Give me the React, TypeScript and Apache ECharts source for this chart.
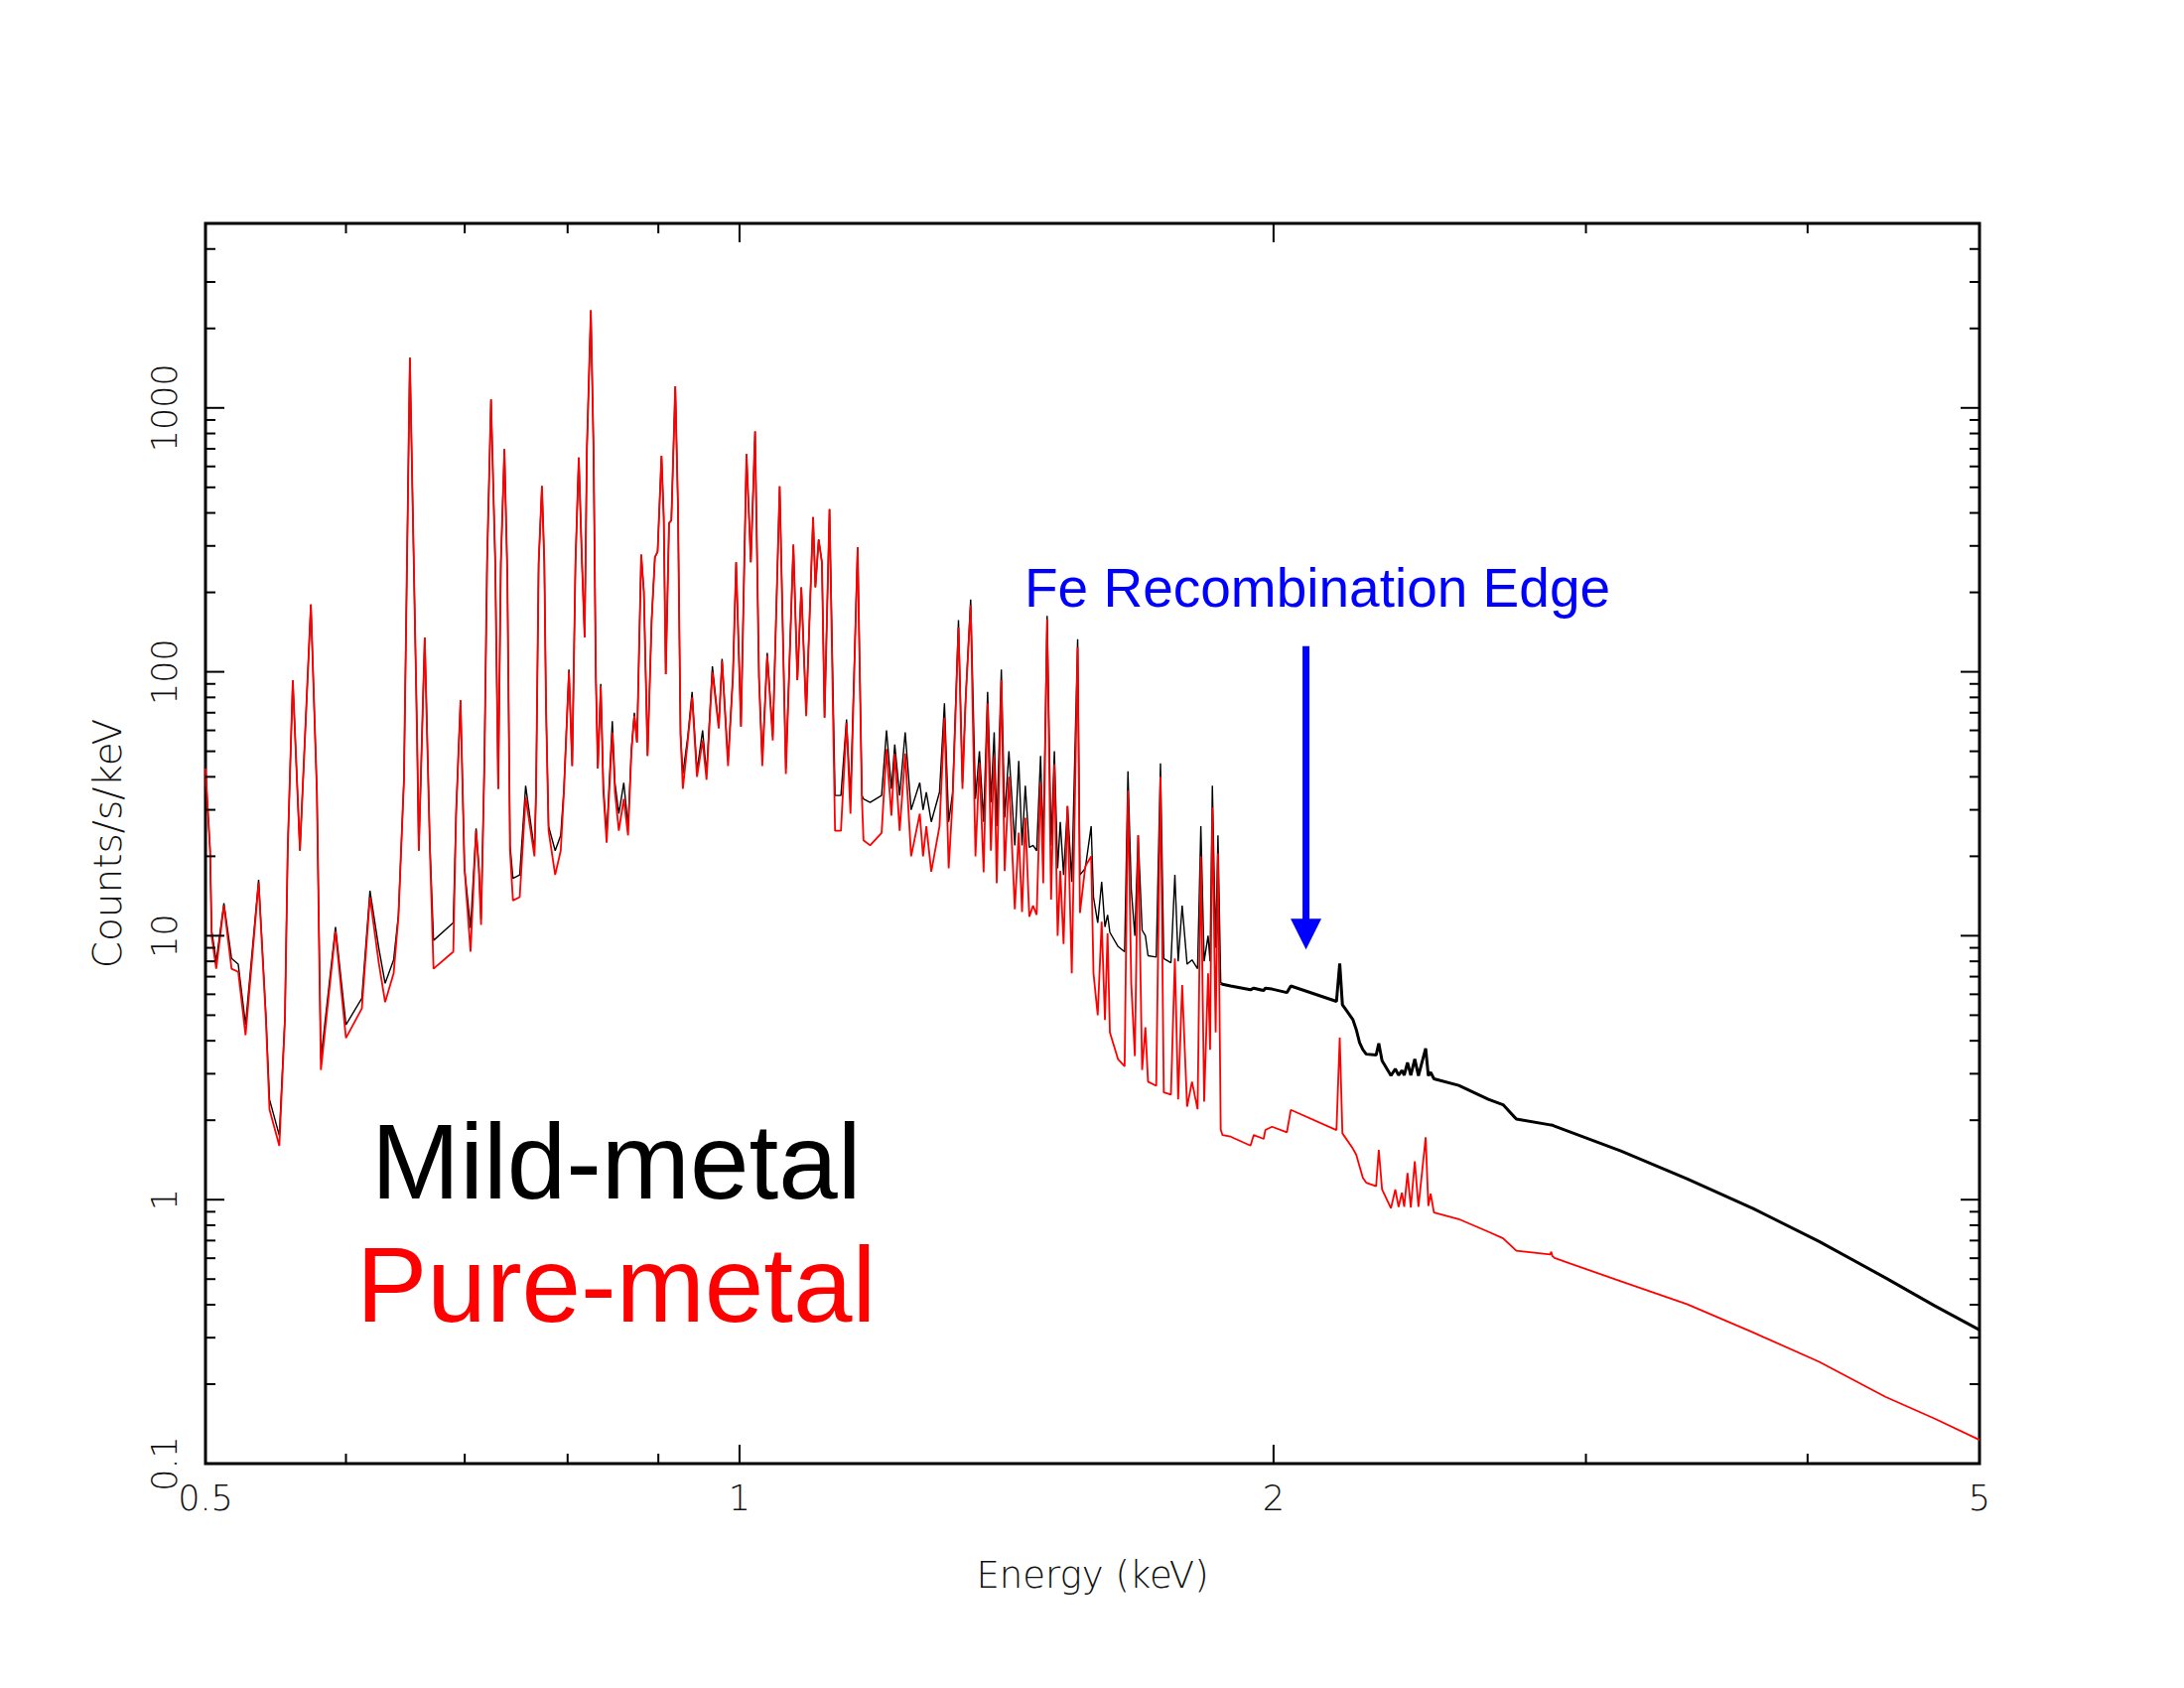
import React, { useEffect, useRef } from "react";
import * as echarts from "echarts";

// Energy grid (keV) shared by both model spectra
const energy = [
  0.5, 0.503, 0.504, 0.507, 0.5121, 0.5172, 0.5217, 0.5267, 0.5357, 0.5408,
  0.5433, 0.5503, 0.5543, 0.5563, 0.56, 0.5652, 0.5733, 0.5778, 0.5808, 0.5919,
  0.6, 0.6125, 0.619, 0.6261, 0.6313, 0.6383, 0.6423, 0.6469, 0.6519, 0.658,
  0.6595, 0.6646, 0.6691, 0.6722, 0.6897, 0.6922, 0.6962, 0.6998, 0.7053, 0.7104,
  0.7129, 0.715, 0.7181, 0.7206, 0.7243, 0.7283, 0.7311, 0.7336, 0.737, 0.7398,
  0.7424, 0.7452, 0.7518, 0.7576, 0.7663, 0.7679, 0.7705, 0.7738, 0.7762, 0.7779,
  0.7805, 0.7872, 0.7929, 0.7962, 0.8014, 0.8048, 0.8082, 0.8117, 0.8151, 0.8179,
  0.8203, 0.8245, 0.8274, 0.8299, 0.832, 0.8352, 0.838, 0.8416, 0.8478, 0.8507,
  0.855, 0.8605, 0.8653, 0.8691, 0.8724, 0.8754, 0.8802, 0.8832, 0.8875, 0.8922,
  0.896, 0.8991, 0.9037, 0.9063, 0.9087, 0.9126, 0.9153, 0.92, 0.9232, 0.9263,
  0.9291, 0.9351, 0.9403, 0.9463, 0.9532, 0.9581, 0.9654, 0.9734, 0.9776, 0.9852,
  0.9914, 0.9956, 1.0019, 1.0091, 1.0148, 1.0204, 1.0256, 1.03, 1.0366, 1.0441,
  1.0535, 1.062, 1.0724, 1.078, 1.0835, 1.0904, 1.1002, 1.1035, 1.1082, 1.1129,
  1.1167, 1.1239, 1.132, 1.1407, 1.149, 1.1549, 1.1657, 1.1722, 1.1746, 1.1847,
  1.2025, 1.2102, 1.2179, 1.2232, 1.231, 1.2399, 1.2495, 1.2636, 1.269, 1.2744,
  1.2826, 1.2964, 1.3047, 1.3119, 1.3187, 1.3287, 1.3356, 1.3412, 1.3499, 1.3583,
  1.3653, 1.3728, 1.3799, 1.3858, 1.3917, 1.3964, 1.4047, 1.4108, 1.4186, 1.4295,
  1.4368, 1.443, 1.4491, 1.4566, 1.4637, 1.4706, 1.4781, 1.4832, 1.4907, 1.4984,
  1.5048, 1.5112, 1.5164, 1.5229, 1.5307, 1.5392, 1.551, 1.5556, 1.5664, 1.5784,
  1.5832, 1.5919, 1.6001, 1.6069, 1.6124, 1.6172, 1.6346, 1.6485, 1.6556, 1.6627,
  1.6705, 1.6777, 1.6863, 1.6935, 1.6993, 1.7175, 1.727, 1.7344, 1.7506, 1.7596,
  1.7671, 1.7763, 1.7877, 1.7991, 1.8122, 1.8199, 1.8277, 1.8371, 1.8418, 1.8473,
  1.8552, 1.8608, 1.8675, 1.8716, 1.8917, 1.941, 1.9493, 1.9745, 1.9788, 1.996,
  2.0349, 2.0454, 2.1702, 2.1794, 2.187, 2.217, 2.2267, 2.2363, 2.2459, 2.2556,
  2.2848, 2.2927, 2.3025, 2.3293, 2.3424, 2.3524, 2.3625, 2.3696, 2.3798, 2.39,
  2.4024, 2.4138, 2.4366, 2.445, 2.4524, 2.4629, 2.5435, 2.643, 2.694, 2.741,
  2.864, 2.868, 2.872, 2.88, 3.139, 3.42, 3.727, 4.061, 4.425, 4.718,
  5.0,
];

// Pure-metal model (red), counts/s/keV
const pureMetal = [
  43, 21, 10, 7.5, 13, 7.5, 7.3, 4.2, 15.9, 4.8,
  2.2, 1.6, 4.8, 21, 93, 21, 180, 35, 3.1, 10.4,
  4.1, 5.3, 14, 7.9, 5.6, 7.2, 11.8, 39, 1550, 58,
  21, 135, 21, 7.5, 8.7, 29, 78, 18, 8.7, 25,
  18, 11, 45, 258, 1077, 258, 36, 258, 698, 234,
  21, 13.6, 14, 33.5, 20, 35, 258, 506, 258, 74,
  25, 17, 21, 35, 100, 44, 258, 649, 258, 135,
  698, 2345, 698, 95, 43, 88, 35, 22.5, 59, 35,
  25, 33, 24, 50, 68, 54, 278, 201, 48, 157,
  272, 285, 658, 385, 98, 366, 375, 1208, 425, 58,
  36, 55, 80, 40, 55, 39, 100, 61, 110, 44,
  95, 260, 62, 668, 260, 815, 95, 44, 115, 55,
  504, 41, 303, 93, 209, 68, 386, 209, 317, 260,
  67, 413, 25, 25, 64, 29, 297, 33, 23, 22,
  24.5, 51, 28.5, 49, 25, 49, 20, 29, 20, 26,
  17.5, 26, 67, 18, 33, 147, 36, 79, 179, 20,
  45, 17.4, 76, 21, 48, 15.8, 93, 17.6, 40, 12.6,
  24.6, 12.3, 28, 11.8, 13, 12, 38, 15.8, 158, 13.7,
  44.7, 10, 17.6, 9.3, 31, 7.2, 124, 12.2, 18.3, 20,
  7.2, 5.0, 11.3, 4.8, 10.2, 4.3, 3.4, 3.2, 35.5, 6.6,
  3.5, 24, 3.1, 4.5, 2.8, 2.7, 40, 2.55, 2.5, 8.2,
  2.4, 6.5, 2.25, 2.8, 2.2, 20, 2.35, 7.2, 3.7, 30.6,
  4.3, 20.5, 1.84, 1.758, 1.733, 1.603, 1.758, 1.699, 1.836, 1.889,
  1.8, 2.19, 1.836, 4.11, 1.784, 1.56, 1.479, 1.337, 1.209, 1.16,
  1.125, 1.545, 1.093, 0.928, 1.093, 0.939, 1.062, 0.939, 1.262, 0.933,
  1.396, 0.939, 1.723, 0.947, 1.053, 0.894, 0.844, 0.756, 0.714, 0.64,
  0.62, 0.635, 0.612, 0.601, 0.491, 0.402, 0.314, 0.243, 0.179, 0.148,
  0.123,
];

// Mild-metal model (black), counts/s/keV
const mildMetal = [
  43, 21, 10.5, 8, 13.3, 8.2, 7.8, 4.6, 16.3, 5.0,
  2.4, 1.75, 4.9, 21, 93, 21, 180, 35, 3.4, 10.8,
  4.6, 5.8, 14.8, 9, 6.6, 8.1, 12, 39, 1550, 58,
  21, 135, 22, 9.6, 11.2, 29, 78, 18, 10.7, 25.5,
  18.5, 11.5, 45, 258, 1077, 258, 36, 258, 698, 234,
  22, 16.5, 17, 37, 21, 35, 258, 506, 258, 74,
  26, 21, 24, 36, 102, 44, 258, 649, 258, 135,
  698, 2345, 698, 95, 43, 90, 37, 24, 65, 38,
  29, 38, 26, 51, 70, 54, 278, 201, 48, 157,
  272, 285, 658, 385, 98, 366, 375, 1208, 425, 58,
  41, 57, 84, 42, 60, 41, 105, 62, 112, 46,
  95, 260, 62, 668, 260, 815, 95, 46, 118, 57,
  504, 43, 303, 93, 209, 70, 386, 209, 317, 260,
  67, 413, 34, 34, 66, 33, 297, 34, 33, 32,
  34, 60, 36, 53, 34, 59, 30, 38, 30, 35,
  27, 35, 76, 27, 35, 157, 38, 80, 188, 33,
  50, 27, 84, 32, 59, 26, 102, 28, 50, 22,
  46, 22, 37, 21.6, 22, 21, 48, 22, 163, 22,
  50, 18, 27, 17, 31, 16, 133, 17, 18, 26,
  14, 11.2, 16, 10.8, 12, 10.3, 9.1, 8.7, 42, 15,
  10, 24, 10.5, 10, 8.4, 8.3, 45, 8.2, 7.9, 17,
  8, 13, 7.8, 8.1, 7.5, 26, 8, 10, 8, 37,
  9, 24, 6.6, 6.55, 6.45, 6.24, 6.33, 6.2, 6.33, 6.28,
  6.09, 6.45, 5.64, 7.85, 5.48, 4.81, 4.41, 3.93, 3.7, 3.56,
  3.53, 3.91, 3.36, 2.95, 3.13, 2.96, 3.09, 2.96, 3.31, 2.96,
  3.41, 2.95, 3.74, 2.95, 3.04, 2.87, 2.71, 2.4, 2.29, 2.02,
  1.92, 1.92, 1.915, 1.9, 1.53, 1.2, 0.925, 0.694, 0.506, 0.396,
  0.321,
];

// Axis ticks and labels
const xTickMajor = [0.5, 1, 2, 5];
const xTickLabels = ["0.5", "1", "2", "5"];
const xTickMinor = [0.6, 0.7, 0.8, 0.9, 3, 4];
const yTickMajor = [0.1, 1, 10, 100, 1000];
const yTickLabels = ["0.1", "1", "10", "100", "1000"];
const yTickMinor = [
  0.2, 0.3, 0.4, 0.5, 0.6, 0.7, 0.8, 0.9,
  2, 3, 4, 5, 6, 7, 8, 9,
  20, 30, 40, 50, 60, 70, 80, 90,
  200, 300, 400, 500, 600, 700, 800, 900,
  2000, 3000, 4000, 5000,
];

// Fe recombination edge arrow: [energy, top value, tip value]
const edgeArrow = [2.086, 125, 8.86];

// Energy above which the line forest ends (continuum drawn heavier)
const forestEnd = 1.8675;

const X_MIN = 0.5;
const X_MAX = 5;
const Y_MIN = 0.1;
const Y_MAX = 5000;

const LABEL_FONT = "DejaVu Sans";
const TEXT_FONT = "Liberation Sans";

function xTickSeries(values: number[], len: number) {
  return {
    type: "custom",
    silent: true,
    clip: false,
    z: 6,
    data: values.map((v) => [v, Y_MIN]),
    renderItem: (params: any, api: any) => {
      const v = api.value(0);
      const b = api.coord([v, Y_MIN]);
      const t = api.coord([v, Y_MAX]);
      const style = { stroke: "#000", lineWidth: 2 };
      return {
        type: "group",
        children: [
          { type: "line", shape: { x1: b[0], y1: b[1], x2: b[0], y2: b[1] - len }, style },
          { type: "line", shape: { x1: t[0], y1: t[1], x2: t[0], y2: t[1] + len }, style },
        ],
      };
    },
  };
}

function yTickSeries(values: number[], len: number) {
  return {
    type: "custom",
    silent: true,
    clip: false,
    z: 6,
    data: values.map((v) => [X_MIN, v]),
    renderItem: (params: any, api: any) => {
      const v = api.value(1);
      const l = api.coord([X_MIN, v]);
      const r = api.coord([X_MAX, v]);
      const style = { stroke: "#000", lineWidth: 2 };
      return {
        type: "group",
        children: [
          { type: "line", shape: { x1: l[0], y1: l[1], x2: l[0] + len, y2: l[1] }, style },
          { type: "line", shape: { x1: r[0], y1: r[1], x2: r[0] - len, y2: r[1] }, style },
        ],
      };
    },
  };
}

const tickTextStyle = (text: string) => ({
  text,
  fill: "#111",
  fontSize: 35,
  fontFamily: LABEL_FONT,
  fontWeight: 200,
  align: "center",
  verticalAlign: "middle",
  textAlign: "center",
  textVerticalAlign: "middle",
});

export default function App() {
  const ref = useRef<HTMLDivElement>(null);

  useEffect(() => {
    if (!ref.current) return;
    const chart = echarts.init(ref.current, undefined, { renderer: "svg" });

    const mildPairs = energy.map((e, i) => [e, mildMetal[i]]);
    const mildForest = mildPairs.filter((p) => p[0] <= forestEnd);
    const mildContinuum = mildPairs.filter((p) => p[0] >= forestEnd);

    const option: any = {
      animation: false,
      backgroundColor: "#ffffff",
      grid: {
        left: 207,
        right: 206,
        top: 225,
        bottom: 226,
        show: true,
        borderColor: "#000",
        borderWidth: 3,
        backgroundColor: "transparent",
      },
      xAxis: {
        type: "log",
        logBase: 10,
        min: X_MIN,
        max: X_MAX,
        axisLine: { show: false },
        axisTick: { show: false },
        axisLabel: { show: false },
        splitLine: { show: false },
        name: "Energy (keV)",
        nameLocation: "middle",
        nameGap: 112,
        nameTextStyle: {
          fontFamily: LABEL_FONT,
          fontSize: 37,
          fontWeight: 200,
          color: "#111",
          verticalAlign: "middle",
        },
      },
      yAxis: {
        type: "log",
        logBase: 10,
        min: Y_MIN,
        max: Y_MAX,
        axisLine: { show: false },
        axisTick: { show: false },
        axisLabel: { show: false },
        splitLine: { show: false },
        name: "Counts/s/keV",
        nameLocation: "middle",
        nameGap: 99,
        nameTextStyle: {
          fontFamily: LABEL_FONT,
          fontSize: 39,
          fontWeight: 200,
          color: "#111",
          verticalAlign: "middle",
        },
      },
      series: [
        {
          type: "line",
          name: "Mild-metal",
          data: mildForest,
          showSymbol: false,
          symbol: "none",
          lineStyle: { color: "#000000", width: 1.4 },
          itemStyle: { color: "#000000" },
          z: 2,
        },
        {
          type: "line",
          name: "Mild-metal",
          data: mildContinuum,
          showSymbol: false,
          symbol: "none",
          lineStyle: { color: "#000000", width: 3 },
          itemStyle: { color: "#000000" },
          z: 2,
        },
        {
          type: "line",
          name: "Pure-metal",
          data: energy.map((e, i) => [e, pureMetal[i]]),
          showSymbol: false,
          symbol: "none",
          lineStyle: { color: "#ff0000", width: 1.8 },
          itemStyle: { color: "#ff0000" },
          z: 3,
        },
        xTickSeries(xTickMajor, 19),
        xTickSeries(xTickMinor, 10),
        yTickSeries(yTickMajor, 19),
        yTickSeries(yTickMinor, 10),
        {
          type: "custom",
          silent: true,
          clip: false,
          z: 7,
          data: xTickMajor.map((v) => [v, Y_MIN]),
          renderItem: (params: any, api: any) => {
            const p = api.coord([api.value(0), Y_MIN]);
            return {
              type: "text",
              x: p[0],
              y: p[1] + 35,
              style: tickTextStyle(xTickLabels[params.dataIndex]),
            };
          },
        },
        {
          type: "custom",
          silent: true,
          clip: false,
          z: 7,
          data: yTickMajor.map((v) => [X_MIN, v]),
          renderItem: (params: any, api: any) => {
            const p = api.coord([X_MIN, api.value(1)]);
            return {
              type: "text",
              x: p[0] - 41,
              y: p[1],
              rotation: Math.PI / 2,
              style: tickTextStyle(yTickLabels[params.dataIndex]),
            };
          },
        },
        {
          type: "custom",
          silent: true,
          clip: false,
          z: 8,
          data: [edgeArrow],
          renderItem: (params: any, api: any) => {
            const top = api.coord([api.value(0), api.value(1)]);
            const tip = api.coord([api.value(0), api.value(2)]);
            const headLen = 31;
            const headHalf = 15.5;
            return {
              type: "group",
              children: [
                {
                  type: "line",
                  shape: { x1: top[0], y1: top[1], x2: tip[0], y2: tip[1] - headLen + 2 },
                  style: { stroke: "#0000ff", lineWidth: 7 },
                },
                {
                  type: "polygon",
                  shape: {
                    points: [
                      [tip[0] - headHalf, tip[1] - headLen],
                      [tip[0] + headHalf, tip[1] - headLen],
                      [tip[0], tip[1]],
                    ],
                  },
                  style: { fill: "#0000ff" },
                },
              ],
            };
          },
        },
      ],
      graphic: [
        {
          type: "text",
          x: 1032,
          y: 592,
          z: 10,
          style: {
            text: "Fe Recombination Edge",
            fill: "#0000ff",
            fontSize: 55,
            fontFamily: TEXT_FONT,
            align: "left",
            verticalAlign: "middle",
            textAlign: "left",
            textVerticalAlign: "middle",
          },
        },
        {
          type: "text",
          x: 374,
          y: 1170,
          z: 10,
          style: {
            text: "Mild-metal",
            fill: "#000000",
            fontSize: 107,
            fontFamily: TEXT_FONT,
            align: "left",
            verticalAlign: "middle",
            textAlign: "left",
            textVerticalAlign: "middle",
          },
        },
        {
          type: "text",
          x: 359,
          y: 1294,
          z: 10,
          style: {
            text: "Pure-metal",
            fill: "#ff0000",
            fontSize: 107,
            fontFamily: TEXT_FONT,
            align: "left",
            verticalAlign: "middle",
            textAlign: "left",
            textVerticalAlign: "middle",
          },
        },
      ],
    };

    chart.setOption(option);
    return () => {
      chart.dispose();
    };
  }, []);

  return (
    <div
      ref={ref}
      style={{ position: "absolute", left: 0, top: 0, width: 2200, height: 1700, background: "#fff" }}
    />
  );
}
